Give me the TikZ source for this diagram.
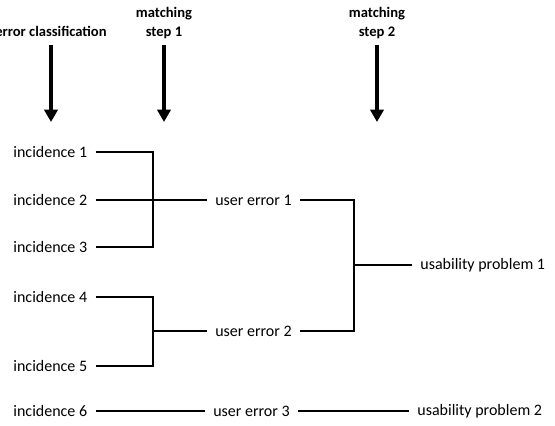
\documentclass[tikz,border=0pt]{standalone}
\usepackage{fontspec}
\setmainfont{Carlito}
\usetikzlibrary{arrows.meta}
\begin{document}
\begin{tikzpicture}[line width=1.6pt,
    lbl/.style={inner xsep=4pt, inner ysep=2pt, font=\fontsize{9.1}{11}\selectfont},
    head/.style={inner sep=2pt, align=center, text depth=0.22em,
      font=\fontsize{8.3}{10.4}\selectfont\bfseries},
    link/.style={line width=1.6pt, line join=miter},
    down/.style={line width=1.9pt, -{Triangle[length=7pt,width=7.5pt]}}]
  \useasboundingbox (0,0) rectangle (11.1,8.52);
  % headings and arrows
  \node[head, anchor=south] (h1) at (1.02,7.62) {error classification};
  \node[head, anchor=south] (h2) at (3.28,7.62) {matching\\step 1};
  \node[head, anchor=south] (h3) at (7.54,7.62) {matching\\step 2};
  \coordinate (t1) at (1.02,6.08);
  \coordinate (t2) at (3.28,6.08);
  \coordinate (t3) at (7.54,6.08);
  \draw[down] (h1.south) -- (t1);
  \draw[down] (h2.south) -- (t2);
  \draw[down] (h3.south) -- (t3);
  % labels
  \node[lbl, anchor=west] (inc1) at (0.10,5.48) {incidence 1};
  \node[lbl, anchor=west] (inc2) at (0.10,4.52) {incidence 2};
  \node[lbl, anchor=west] (inc3) at (0.10,3.58) {incidence 3};
  \node[lbl, anchor=west] (inc4) at (0.10,2.58) {incidence 4};
  \node[lbl, anchor=west] (inc5) at (0.10,1.20) {incidence 5};
  \node[lbl, anchor=west] (inc6) at (0.10,0.30) {incidence 6};
  \node[lbl] (err1) at (5.07,4.52) {user error 1};
  \node[lbl] (err2) at (5.07,1.90) {user error 2};
  \node[lbl] (err3) at (5.03,0.30) {user error 3};
  \node[lbl, anchor=west] (prob1) at (8.24,3.22) {usability problem 1};
  \node[lbl, anchor=west] (prob2) at (8.18,0.30) {usability problem 2};
  % brackets
  \coordinate (j1) at (3.06,4.52);
  \coordinate (j2) at (3.06,1.90);
  \coordinate (j3) at (7.08,3.22);
  \draw[link] (inc1.east) -| (j1) |- (inc3.east);
  \draw[link] (inc2.east) -- (err1.west);
  \draw[link] (inc4.east) -| (j2) |- (inc5.east);
  \draw[link] (j2) -- (err2.west);
  \draw[link] (err1.east) -| (j3) |- (err2.east);
  \draw[link] (j3) -- (prob1.west);
  \draw[link] (inc6) -- (err3) -- (prob2);
\end{tikzpicture}
\end{document}
